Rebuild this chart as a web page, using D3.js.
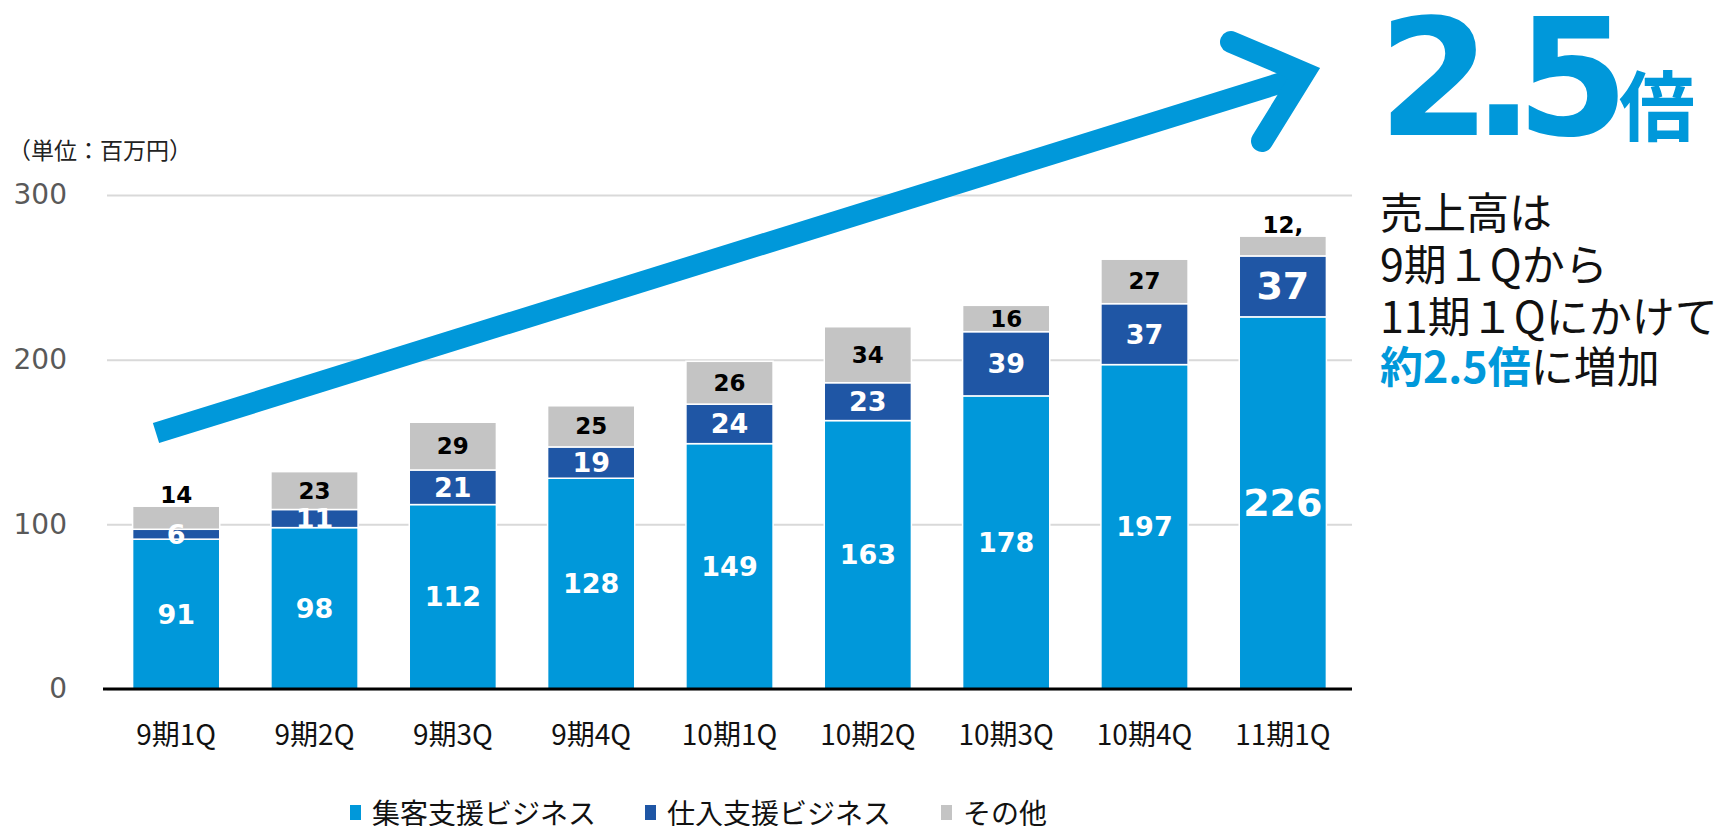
<!DOCTYPE html>
<html>
<head>
<meta charset="utf-8">
<script src="https://cdn.jsdelivr.net/npm/d3@7"></script>
<style>
  body { margin: 0; background: #fff; }
</style>
</head>
<body>
<div id="chart"></div>
<script>
// data (単位：百万円)
var quarters = ["9期1Q", "9期2Q", "9期3Q", "9期4Q", "10期1Q", "10期2Q", "10期3Q", "10期4Q", "11期1Q"];
var shukyaku = [91, 98, 112, 128, 149, 163, 178, 197, 226];   // 集客支援ビジネス
var shiire   = [6, 11, 21, 19, 24, 23, 39, 37, 37];             // 仕入支援ビジネス
var sonota   = [14, 23, 29, 25, 26, 34, 16, 27, 12];            // その他
var sonotaLabels = ["14", "23", "29", "25", "26", "34", "16", "27", "12,"];
var yTicks = [0, 100, 200, 300];
var seriesNames = ["集客支援ビジネス", "仕入支援ビジネス", "その他"];
var seriesColors = ["#0098DA", "#1F56A5", "#C4C4C4"];

var W = 1726, H = 826;
var plot = {left: 107, right: 1352, top: 195, bottom: 689};

var svg = d3.select("#chart").append("svg")
  .attr("width", W)
  .attr("height", H)
  .style("font-family", "'Noto Sans CJK JP', sans-serif");

// scales
var x = d3.scaleBand()
  .domain(quarters)
  .range([plot.left, plot.right])
  .paddingInner(0.37)
  .paddingOuter(0.185);

var y = d3.scaleLinear()
  .domain([0, 300])
  .range([plot.bottom, plot.top]);

// gridlines + y labels
var yAxis = svg.append("g")
  .attr("transform", "translate(" + plot.left + ",0)")
  .call(d3.axisLeft(y).tickValues(yTicks).tickSize(-(plot.right - plot.left)).tickPadding(40));
yAxis.select(".domain").remove();
yAxis.selectAll("line").attr("stroke", "#D9D9D9").attr("stroke-width", 2);
yAxis.selectAll("text")
  .attr("fill", "#595959")
  .style("font-family", "'DejaVu Sans', sans-serif")
  .style("font-size", "28px");

// unit label
svg.append("text")
  .attr("x", 8).attr("y", 159)
  .style("font-size", "23px")
  .attr("fill", "#222")
  .text("（単位：百万円）");

// stacked bars
var rows = quarters.map(function(q, i) {
  return {q: q, a: shukyaku[i], b: shiire[i], c: sonota[i]};
});
var stack = d3.stack().keys(["a", "b", "c"])(rows);

var layers = svg.selectAll("g.layer")
  .data(stack)
  .enter().append("g")
  .attr("class", "layer")
  .attr("fill", function(d, i) { return seriesColors[i]; });

layers.selectAll("rect")
  .data(function(d) { return d; })
  .enter().append("rect")
  .attr("x", function(d) { return x(d.data.q); })
  .attr("y", function(d) { return y(d[1]); })
  .attr("width", x.bandwidth())
  .attr("height", function(d) { return y(d[0]) - y(d[1]); })
  .attr("stroke", "#fff")
  .attr("stroke-width", 1.5);

// zero axis line
svg.append("line")
  .attr("x1", plot.left - 4).attr("x2", plot.right)
  .attr("y1", y(0)).attr("y2", y(0))
  .attr("stroke", "#000").attr("stroke-width", 3);

// x labels
var xAxis = svg.append("g")
  .attr("transform", "translate(0," + plot.bottom + ")")
  .call(d3.axisBottom(x).tickSize(0));
xAxis.select(".domain").remove();
xAxis.selectAll("text")
  .attr("y", 46).attr("dy", "0.35em")
  .attr("fill", "#111")
  .style("font-family", "'Noto Sans CJK JP', sans-serif")
  .style("font-size", "28px");

// data labels
var last = quarters.length - 1;
stack.forEach(function(layer, si) {
  svg.append("g").selectAll("text")
    .data(layer)
    .enter().append("text")
    .attr("x", function(d) { return x(d.data.q) + x.bandwidth() / 2; })
    .attr("y", function(d, i) {
      var top = y(d[1]), bot = y(d[0]);
      if (si === 2 && bot - top < 25) return top - 11;
      return (top + bot) / 2;
    })
    .attr("text-anchor", "middle")
    .attr("dominant-baseline", "central")
    .attr("fill", si === 2 ? "#000" : "#fff")
    .style("font-family", "'DejaVu Sans', sans-serif")
    .style("font-weight", "bold")
    .style("font-size", function(d, i) {
      if (si === 2) return "23px";
      return i === last ? "38px" : "27px";
    })
    .text(function(d, i) {
      return si === 2 ? sonotaLabels[i] : (si === 0 ? shukyaku[i] : shiire[i]);
    });
});

// growth arrow
var arrowBlue = "#0098DA";
svg.append("path")
  .attr("d", d3.line()([[156, 433], [1300, 77]]))
  .attr("stroke", arrowBlue).attr("stroke-width", 21).attr("fill", "none");
svg.append("path")
  .attr("d", d3.line()([[1231, 42], [1304, 73], [1262, 141]]))
  .attr("stroke", arrowBlue).attr("stroke-width", 22).attr("fill", "none")
  .attr("stroke-linecap", "round").attr("stroke-linejoin", "miter");

// 2.5倍 headline
var head = svg.append("text")
  .attr("x", 1378).attr("y", 135)
  .attr("fill", arrowBlue)
  .style("font-weight", "bold");
head.append("tspan")
  .style("font-family", "'DejaVu Sans', sans-serif")
  .style("font-size", "162px")
  .style("letter-spacing", "-18px")
  .text("2.5");
head.append("tspan")
  .attr("dx", 8)
  .style("font-family", "'Noto Sans CJK JP', sans-serif")
  .style("font-size", "76px")
  .text("倍");

// side note
var noteLines = ["売上高は", "9期１Qから", "11期１Qにかけて"];
svg.append("g").selectAll("text")
  .data(noteLines)
  .enter().append("text")
  .attr("x", 1380)
  .attr("y", function(d, i) { return 229 + i * 52; })
  .attr("fill", "#111")
  .style("font-size", "43px")
  .text(function(d) { return d; });
var last4 = svg.append("text")
  .attr("x", 1380).attr("y", 383)
  .style("font-size", "43px");
last4.append("tspan").attr("fill", arrowBlue).style("font-weight", "bold").text("約2.5倍");
last4.append("tspan").attr("fill", "#111").text("に増加");

// legend
var legendX = [350, 645, 941];
var legend = svg.append("g").selectAll("g")
  .data(seriesNames)
  .enter().append("g")
  .attr("transform", function(d, i) { return "translate(" + legendX[i] + ",812)"; });
legend.append("rect")
  .attr("x", 0).attr("y", -7)
  .attr("width", 11).attr("height", 15)
  .attr("fill", function(d, i) { return seriesColors[i]; });
legend.append("text")
  .attr("x", 22).attr("y", 0)
  .attr("dominant-baseline", "central")
  .attr("fill", "#111")
  .style("font-size", "28px")
  .text(function(d) { return d; });
</script>
</body>
</html>
